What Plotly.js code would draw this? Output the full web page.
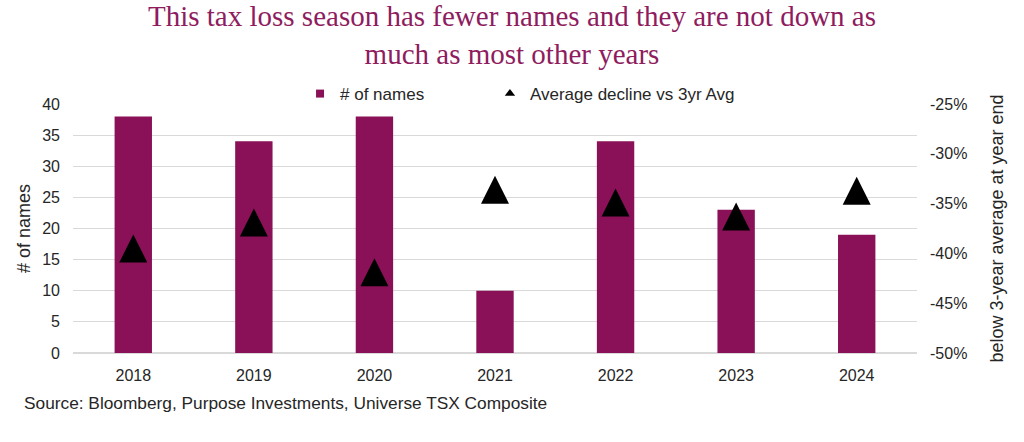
<!DOCTYPE html>
<html>
<head>
<meta charset="utf-8">
<script src="https://cdn.plot.ly/plotly-3.0.1.min.js"></script>
<style>html,body{margin:0;padding:0;background:#fff;}#chart{width:1024px;height:442px;}</style>
</head>
<body>
<div id="chart"></div>
<script>
const years = ['2018', '2019', '2020', '2021', '2022', '2023', '2024'];
const numNames = [38, 34, 38, 10, 34, 23, 19];
const avgDecline = [-39.5, -36.9, -41.9, -33.6, -34.9, -36.3, -33.7];
const leftTicks = [0, 5, 10, 15, 20, 25, 30, 35, 40];
const rightTickVals = [-50, -45, -40, -35, -30, -25];
const rightTickText = ['-50%', '-45%', '-40%', '-35%', '-30%', '-25%'];

const FONT = 'Liberation Sans, Arial, sans-serif';
const TXT = '#262626';
const BAR = '#8A1157';

const barTrace = {
  type: 'bar',
  x: years,
  y: numNames,
  name: '# of names',
  marker: {color: BAR},
  yaxis: 'y',
  showlegend: false
};

const triTrace = {
  type: 'scatter',
  mode: 'markers',
  x: years,
  y: avgDecline,
  name: 'Average decline vs 3yr Avg',
  yaxis: 'y2',
  showlegend: false,
  marker: {symbol: 'arrow-down', angle: 180, size: 28, standoff: 14, color: '#000000', line: {width: 0}}
};

const legendBar = {
  type: 'scatter',
  mode: 'markers',
  x: [null],
  y: [null],
  name: '# of names',
  yaxis: 'y',
  legend: 'legend',
  marker: {symbol: 'square', size: 8, color: BAR}
};

const legendTri = {
  type: 'scatter',
  mode: 'markers',
  x: [null],
  y: [null],
  name: 'Average decline vs 3yr Avg',
  yaxis: 'y2',
  legend: 'legend2',
  marker: {symbol: 'triangle-up', size: 9, color: '#000000'}
};

const legendCommon = {
  orientation: 'h',
  xanchor: 'left',
  y: 1.04, yanchor: 'middle',
  font: {family: FONT, size: 17, color: TXT},
  bgcolor: 'rgba(0,0,0,0)',
  itemwidth: 30
};

const layout = {
  width: 1024,
  height: 442,
  paper_bgcolor: '#ffffff',
  plot_bgcolor: '#ffffff',
  margin: {l: 73, r: 107, t: 104, b: 89},
  font: {family: FONT, color: TXT, size: 16},
  bargap: 0.69,
  title: {
    text: 'This tax loss season has fewer names and they are not down as<br>much as most other years',
    font: {family: 'Liberation Serif, Times New Roman, serif', size: 29, color: '#8E1C5E'},
    x: 0.5, xref: 'container', xanchor: 'center',
    y: 0.941, yref: 'container', yanchor: 'top'
  },
  xaxis: {
    type: 'category',
    showgrid: false,
    zeroline: false,
    showline: false,
    ticks: '',
    tickfont: {family: FONT, size: 16, color: TXT},
    ticklabelstandoff: 11
  },
  yaxis: {
    range: [0, 40],
    tickvals: leftTicks,
    showgrid: true,
    gridcolor: '#d9d9d9',
    gridwidth: 1,
    zeroline: true,
    zerolinecolor: '#d9d9d9',
    zerolinewidth: 1.5,
    showline: false,
    ticks: '',
    tickfont: {family: FONT, size: 16, color: TXT},
    ticklabelstandoff: 12,
    title: {text: '# of names', font: {family: FONT, size: 18, color: TXT}, standoff: 6}
  },
  yaxis2: {
    overlaying: 'y',
    side: 'right',
    range: [-50, -25],
    tickvals: rightTickVals,
    ticktext: rightTickText,
    showgrid: false,
    zeroline: false,
    showline: false,
    ticks: '',
    tickfont: {family: FONT, size: 16, color: TXT},
    ticklabelstandoff: 12,
    title: {text: 'below 3-year average at year end', font: {family: FONT, size: 18, color: TXT}, standoff: 24}
  },
  legend: Object.assign({}, legendCommon, {x: 0.269}),
  legend2: Object.assign({}, legendCommon, {x: 0.494}),
  annotations: [{
    text: 'Source: Bloomberg, Purpose Investments, Universe TSX Composite',
    xref: 'paper', yref: 'paper',
    x: (22 - 73) / 844, y: (353 - 403) / 249,
    xanchor: 'left', yanchor: 'middle',
    showarrow: false,
    font: {family: FONT, size: 17.3, color: TXT}
  }],
  hovermode: false
};

Plotly.newPlot('chart', [barTrace, triTrace, legendBar, legendTri], layout, {displayModeBar: false, staticPlot: true});
</script>
</body>
</html>
